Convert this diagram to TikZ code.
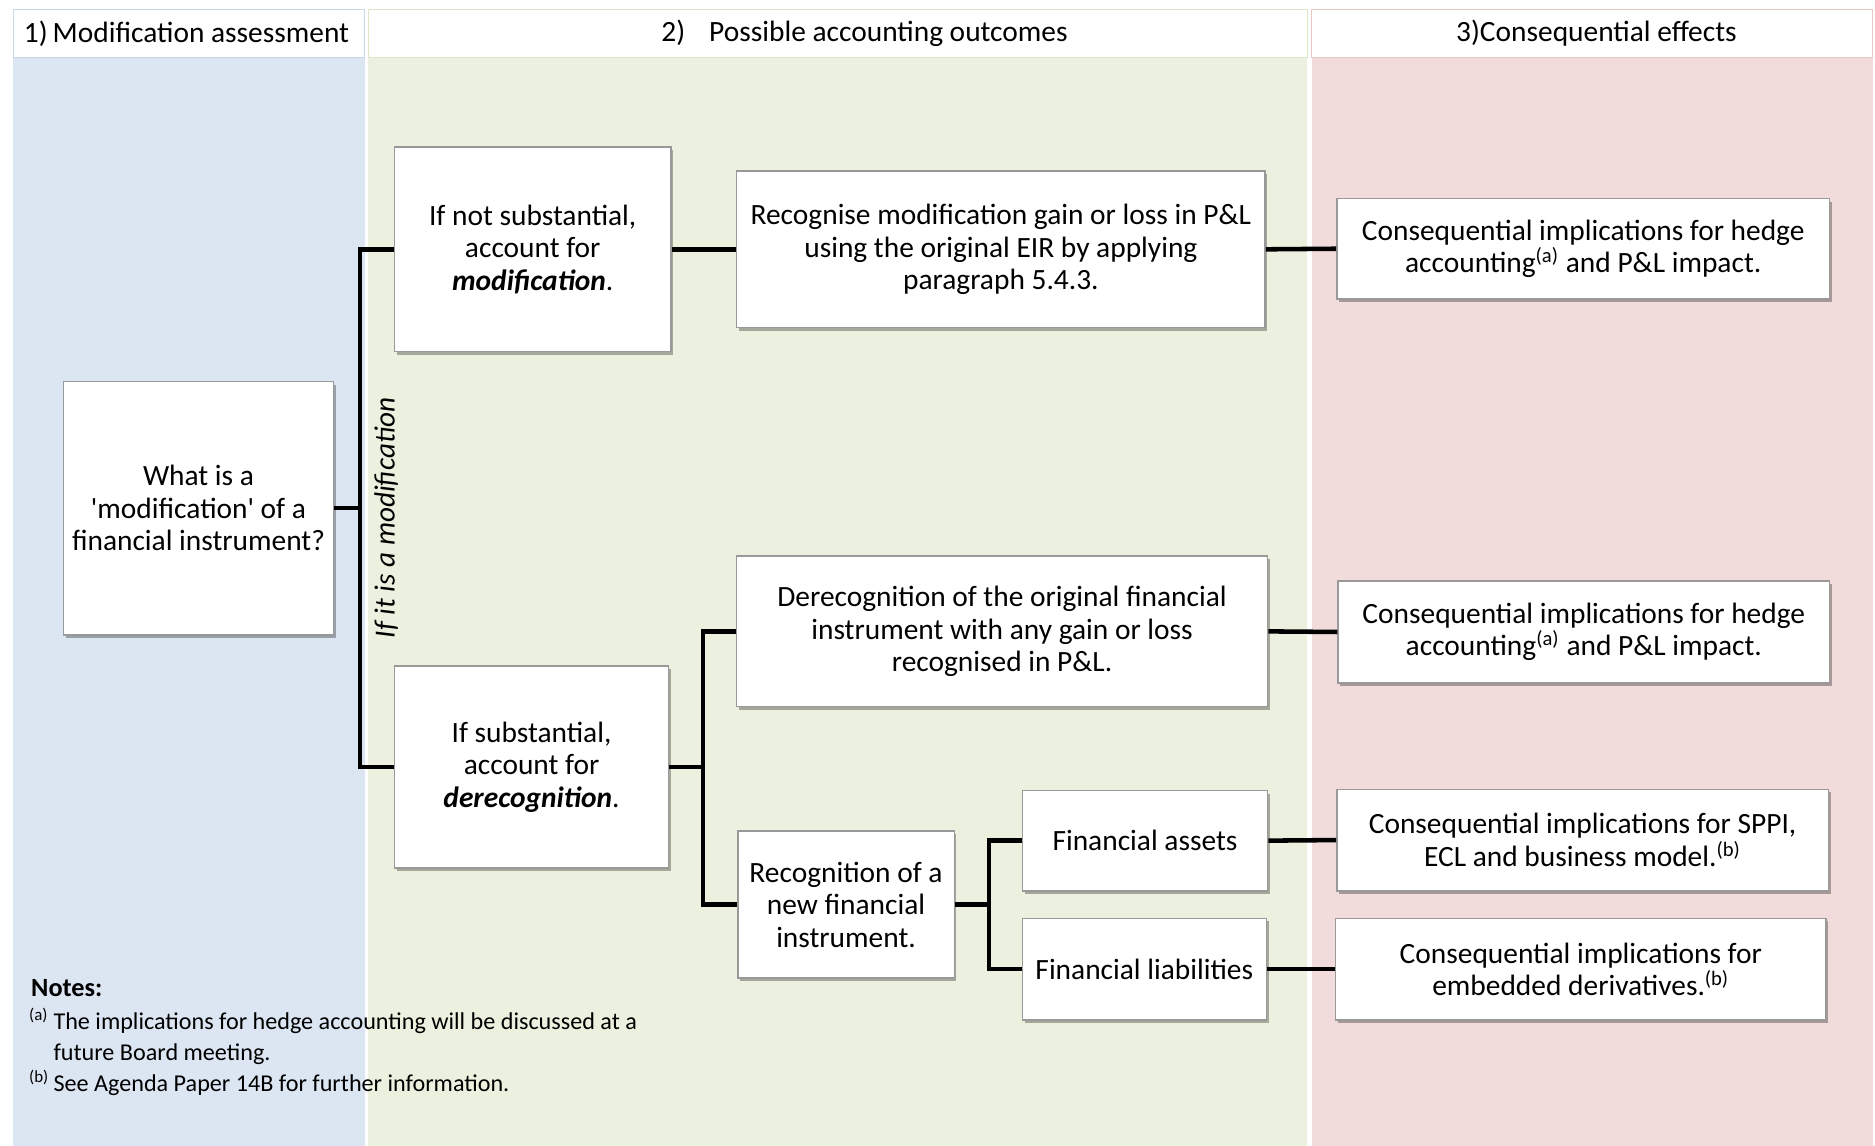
\documentclass[tikz,border=0pt]{standalone}
\usepackage{fontspec}
\setmainfont{Carlito}
\usetikzlibrary{shadows}
\definecolor{bgblue}{RGB}{220,230,242}
\definecolor{bggreen}{RGB}{235,241,222}
\definecolor{bgpink}{RGB}{242,220,219}
\definecolor{lnblue}{RGB}{200,214,232}
\definecolor{lngreen}{RGB}{222,230,200}
\definecolor{lnpink}{RGB}{235,200,200}
\begin{document}
\begin{tikzpicture}[x=0.5pt,y=-0.5pt,
	box/.style={draw=black!40, line width=0.6pt, fill=white, align=center, inner sep=0pt,
		font=\fontsize{12.3}{13.6}\selectfont,
		drop shadow={shadow xshift=0.9pt, shadow yshift=-1.3pt, fill=black, opacity=0.3}},
	conn/.style={line width=1.9pt, black},
	hdr/.style={font=\fontsize{12.3}{13.6}\selectfont}]
	\useasboundingbox (0,0) rectangle (1568,958);
	\fill[bgblue] (11,48) rectangle (305,958);
	\fill[bggreen] (308,48) rectangle (1093,958);
	\fill[bgpink] (1097,48) rectangle (1566,958);
	\draw[lnblue, fill=white] (11,8) rectangle (305,48);
	\draw[lngreen, fill=white] (308,8) rectangle (1093,48);
	\draw[lnpink, fill=white] (1097,8) rectangle (1566,48);
	\node[hdr] (hdr1) at (156,28) {1)\,Modification assessment};
	\node[hdr] (hdr2) at (723,28) {2)\hspace{10pt}Possible accounting outcomes};
	\node[hdr] (hdr3) at (1335,28) {3)Consequential effects};

	\node[box, minimum width=113pt, minimum height=106pt] (what) at (166,425)
		{What is a\\\textquotesingle modification\textquotesingle{} of a\\financial instrument?};
	\node[box, minimum width=115.5pt, minimum height=85.5pt] (notsub) at (445.5,208.5)
		{If not substantial,\\account for\\\textbf{\textit{modification}}.};
	\node[box, minimum width=114.5pt, minimum height=84.5pt] (sub) at (444.5,641.5)
		{If substantial,\\account for\\\textbf{\textit{derecognition}}.};
	\node[font=\fontsize{12.2}{13.6}\selectfont\itshape, rotate=90] (ifmod) at (323,433) {If it is a modification};

	\node[box, minimum width=221pt, minimum height=65.5pt] (gain) at (837,208.5)
		{Recognise modification gain or loss in P\&L\\using the original EIR by applying\\paragraph 5.4.3.};
	\node[box, minimum width=222pt, minimum height=63pt] (derec) at (838,528)
		{Derecognition of the original financial\\instrument with any gain or loss\\recognised in P\&L.};
	\node[box, minimum width=90.5pt, minimum height=61.5pt] (newfi) at (707.5,756.5)
		{Recognition of a\\new financial\\instrument.};
	\node[box, minimum width=102.5pt, minimum height=42pt] (assets) at (957.5,703) {Financial assets};
	\node[box, minimum width=102pt, minimum height=42.5pt] (liabs) at (957,810.5) {Financial liabilities};

	\node[box, minimum width=206pt, minimum height=42pt] (hedge1) at (1324,208)
		{Consequential implications for hedge\\accounting\textsuperscript{(a)} and P\&L impact.};
	\node[box, minimum width=205.5pt, minimum height=42.5pt] (hedge2) at (1324.5,528.5)
		{Consequential implications for hedge\\accounting\textsuperscript{(a)} and P\&L impact.};
	\node[box, minimum width=205.5pt, minimum height=42.5pt] (sppi) at (1323.5,702.5)
		{Consequential implications for SPPI,\\ECL and business model.\textsuperscript{(b)}};
	\node[box, minimum width=205pt, minimum height=42.5pt] (embed) at (1322,810.5)
		{Consequential implications for\\embedded derivatives.\textsuperscript{(b)}};

	\coordinate (bus1) at (301,425);
	\coordinate (bus2) at (588,641);
	\coordinate (bus3) at (827,756);
	\draw[conn] (what.east) -- (what.east -| bus1);
	\draw[conn] (notsub.west) -- (notsub.west -| bus1) -- (sub.west -| bus1) -- (sub.west);
	\draw[conn] (notsub.east) -- (gain.west);
	\draw[conn] (gain.east) -- (hedge1.west);
	\draw[conn] (sub.east) -- (sub.east -| bus2);
	\draw[conn] (derec.west) -- (derec.west -| bus2) -- (newfi.west -| bus2) -- (newfi.west);
	\draw[conn] (derec.east) -- (hedge2.west);
	\draw[conn] (newfi.east) -- (newfi.east -| bus3);
	\draw[conn] (assets.west) -- (assets.west -| bus3) -- (liabs.west -| bus3) -- (liabs.west);
	\draw[conn] (assets.east) -- (sppi.west);
	\draw[conn] (liabs.east) -- (embed.west);

	\node[anchor=west, font=\fontsize{11}{13}\selectfont\bfseries] (notes) at (19,826) {Notes:};
	\node[anchor=north west, inner sep=0pt, font=\fontsize{10.1}{13}\selectfont] (notetext) at (24,842)
		{\begin{tabular}{@{}l@{\,}l@{}}
		\textsuperscript{(a)} & The implications for hedge accounting will be discussed at a\\
		& future Board meeting.\\
		\textsuperscript{(b)} & See Agenda Paper 14B for further information.
		\end{tabular}};
\end{tikzpicture}
\end{document}
